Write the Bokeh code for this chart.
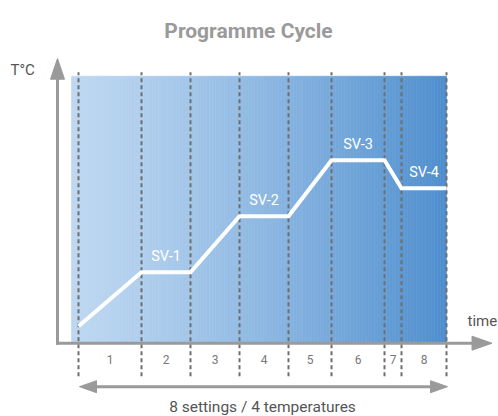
from bokeh.plotting import figure
from bokeh.models import Range1d
from bokeh.core.properties import value
from bokeh.embed import file_html
from bokeh.resources import INLINE

# ---- data ----
settings = ["1", "2", "3", "4", "5", "6", "7", "8"]
durations = [63, 49, 49, 49, 43, 53, 17, 45]          # length of each setting (time)
targets = [71, 71, 127, 127, 183, 183, 155, 155]      # temperature at end of each setting
start_temp = 17
sv_labels = ["SV-1", "SV-2", "SV-3", "SV-4"]
sv_settings = [1, 3, 5, 7]                            # hold settings (0-based) of each SV
title_text = "Programme Cycle"
y_label = "T\u00b0C"
x_label = "time"
bottom_text = "8 settings / 4 temperatures"

FONT = value("Roboto")
AXIS_C = "#9a9a9a"
TEXT_C = "#555555"

bounds = [0]
for d in durations:
    bounds.append(bounds[-1] + d)
t_end = bounds[-1]
t_top = 267  # top of the shaded area (temperature units)

p = figure(width=498, height=416, x_range=Range1d(-78, 420), y_range=Range1d(-73.3, 342.7),
           output_backend="svg", toolbar_location=None, x_axis_type=None, y_axis_type=None,
           min_border=0, outline_line_color=None, background_fill_color="white",
           border_fill_color="white")
p.grid.visible = False

# ---- gradient background ----
left_c = (189, 215, 241)
right_c = (78, 142, 206)
N = 125
x0 = -7.0
w = (t_end - x0) / N
lefts, rights, cols = [], [], []
for i in range(N):
    f = ((i + 0.5) / N) ** 1.25
    c = tuple(int(round(left_c[k] + (right_c[k] - left_c[k]) * f)) for k in range(3))
    cols.append("#%02x%02x%02x" % c)
    lefts.append(x0 + i * w)
    rights.append(x0 + (i + 1) * w)
p.quad(left=lefts, right=rights, bottom=0, top=t_top, fill_color=cols, line_color=cols, line_width=0.6)

# ---- dashed boundaries ----
p.segment(x0=bounds, x1=bounds, y0=-33, y1=t_top + 4, line_color="#6e6e6e", line_width=2,
          line_dash="4 3")

# ---- axes (arrows) ----
ax_x = -21
p.line([ax_x, ax_x], [-1.5, 266], line_color=AXIS_C, line_width=3)
p.patch([ax_x - 7, ax_x + 7, ax_x], [264, 264, 284.7], fill_color=AXIS_C, line_color=AXIS_C)
p.line([ax_x - 1.5, 395], [0, 0], line_color=AXIS_C, line_width=3)
p.patch([393.5, 393.5, 413.5], [7, -7, 0], fill_color=AXIS_C, line_color=AXIS_C)

# ---- profile ----
prof_x = bounds
prof_y = [start_temp] + targets
p.line(prof_x, prof_y, line_color="white", line_width=4, line_join="miter")

# ---- SV labels ----
sv_x = [(bounds[i] + bounds[i + 1]) / 2 for i in sv_settings]
sv_y = [targets[i] for i in sv_settings]
p.text(x=sv_x, y=sv_y, text=sv_labels, text_color="white", text_font=FONT,
       text_font_size="14.5px", text_align="center", text_baseline="middle", y_offset=-16)

# ---- setting numbers ----
mid_x = [(bounds[i] + bounds[i + 1]) / 2 for i in range(len(settings))]
p.text(x=mid_x, y=[-16] * len(settings), text=settings, text_color="#777777", text_font=FONT,
       text_font_size="12px", text_align="center", text_baseline="middle")

# ---- bottom double arrow ----
ay = -43.5
p.line([16, t_end - 16], [ay, ay], line_color=AXIS_C, line_width=3)
p.patch([1, 18, 18], [ay, ay + 6, ay - 6], fill_color=AXIS_C, line_color=AXIS_C)
p.patch([t_end + 1, t_end - 16, t_end - 16], [ay, ay + 6, ay - 6], fill_color=AXIS_C, line_color=AXIS_C)
p.text(x=[t_end / 2], y=[-63.3], text=[bottom_text], text_color=TEXT_C, text_font=FONT,
       text_font_size="15.5px", text_align="center", text_baseline="alphabetic")

# ---- axis labels & title ----
p.text(x=[-68], y=[273.7], text=[y_label], text_color=TEXT_C, text_font=FONT,
       text_font_size="15px", text_align="left", text_baseline="alphabetic")
p.text(x=[389], y=[22.7], text=[x_label], text_color=TEXT_C, text_font=FONT,
       text_font_size="15px", text_align="left", text_baseline="alphabetic")
p.text(x=[170], y=[312], text=[title_text], text_color="#9a9a9a", text_font=FONT,
       text_font_size="21px", text_font_style="bold", text_align="center",
       text_baseline="alphabetic")

open("out.html", "w").write(file_html(p, INLINE))
